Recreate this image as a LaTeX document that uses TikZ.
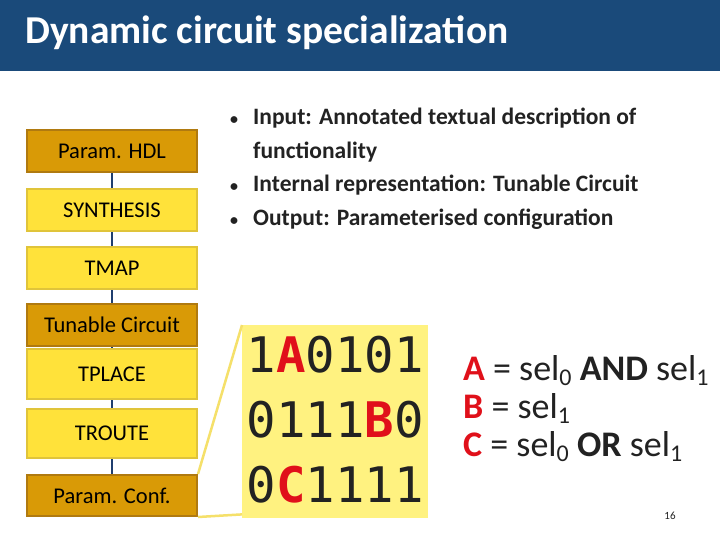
\documentclass[tikz,border=0pt]{standalone}
\usepackage{fontspec}
\setmainfont{Carlito}
\newfontfamily\codefont{DejaVu Sans Mono}
\newcommand{\sbs}[1]{\raisebox{-0.3ex}{\fontsize{24}{24}\selectfont #1}}
\newcommand{\bul}{\makebox[26pt][l]{\hspace{3pt}\fontsize{16}{16}\selectfont\textbullet}}
\begin{document}
\begin{tikzpicture}[x=1pt,y=-1pt,
 dark/.style={draw=darkedge,fill=darkfill,line width=2pt,minimum width=170pt,anchor=north west,font=\fontsize{22.5}{22.5}\selectfont,inner sep=0pt},
 light/.style={draw=lightedge,fill=lightfill,line width=2pt,minimum width=170pt,anchor=north west,font=\fontsize{22.5}{22.5}\selectfont,inner sep=0pt},
 link/.style={draw=linkc,line width=2pt},
 zoomline/.style={draw=zoomc,line width=2.5pt}]
\definecolor{darkfill}{HTML}{D99A06}
\definecolor{darkedge}{HTML}{B07A10}
\definecolor{lightfill}{HTML}{FFE23A}
\definecolor{lightedge}{HTML}{E0C43A}
\definecolor{linkc}{HTML}{1F3E6E}
\definecolor{zoomc}{HTML}{F5E06A}
\definecolor{codefill}{HTML}{FFF280}
\definecolor{titlebg}{HTML}{1A4A7A}
\definecolor{redc}{HTML}{E0101A}
\definecolor{txt}{HTML}{222222}
\useasboundingbox (0,0) rectangle (720,540);
\fill[white] (0,0) rectangle (720,540);
\fill[titlebg] (0,0) rectangle (720,71);
\node[anchor=west,text=white,font=\fontsize{39.5}{39.5}\selectfont\bfseries,inner sep=0pt] (title) at (25,33) {Dynamic circuit specialization};
% flow
\node[dark,minimum height=42pt] (hdl) at (26,129) {Param. HDL};
\node[light,minimum height=42pt] (syn) at (26,188) {SYNTHESIS};
\node[light,minimum height=42pt] (tmap) at (26,246) {TMAP};
\node[dark,minimum height=42pt] (tc) at (26,303) {Tunable Circuit};
\node[light,minimum height=50pt] (tpl) at (26,348) {TPLACE};
\node[light,minimum height=49pt] (tro) at (26,408) {TROUTE};
\node[dark,minimum height=41pt] (pc) at (26,474) {Param. Conf.};
\foreach \a/\b in {hdl/syn,syn/tmap,tmap/tc,tc/tpl,tpl/tro,tro/pc}
  \draw[link] (\a.south) -- (\b.north);
% code box
\node[fill=codefill,anchor=north west,minimum width=186pt,minimum height=193pt,inner sep=0pt] (code) at (242,325) {};
\node[anchor=center,align=left,font=\codefont\fontsize{49}{65}\selectfont,text=txt] (codetxt) at ([yshift=2pt]code.center)
 {1{\color{redc}\bfseries A}0101\\0111{\color{redc}\bfseries B}0\\0{\color{redc}\bfseries C}1111};
\draw[zoomline] (pc.north east) -- (code.north west);
\draw[zoomline] (pc.south east) -- ([yshift=4pt]code.south west);
% bullets
\node[anchor=north west,align=left,text=txt,font=\fontsize{23.5}{33.5}\selectfont\bfseries,inner sep=0pt] (bul) at (227,108)
 {\bul Input: Annotated textual description of\\
  \hspace{26pt}functionality\\
  \bul Internal representation: Tunable Circuit\\
  \bul Output: Parameterised configuration};
% equations
\node[anchor=north west,align=left,text=txt,font=\fontsize{36}{38}\selectfont,inner sep=0pt] (eq) at (463,355)
 {{\color{redc}\bfseries A} = sel\sbs{0} \textbf{AND} sel\sbs{1}\\
  {\color{redc}\bfseries B} = sel\sbs{1}\\
  {\color{redc}\bfseries C} = sel\sbs{0} \textbf{OR} sel\sbs{1}};
\node[text=txt,font=\fontsize{11}{11}\selectfont] (pg) at (670,516) {16};
\end{tikzpicture}
\end{document}
